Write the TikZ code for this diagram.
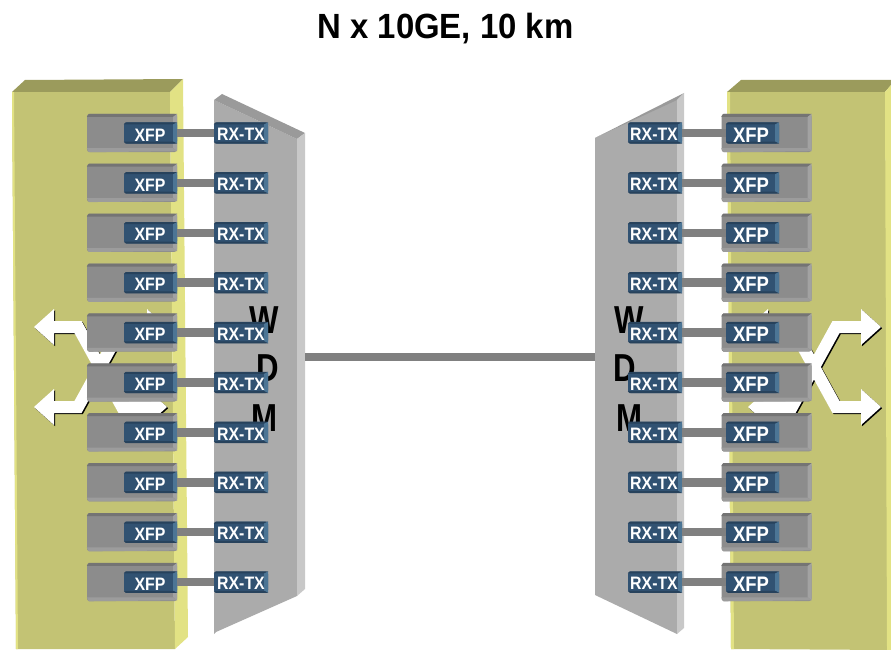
\documentclass[tikz,border=0pt]{standalone}
\usepackage{fontspec}
\setmainfont{Liberation Sans}
\newfontface\condf[FakeStretch=0.88]{Liberation Sans Bold}
\newfontface\condw[FakeStretch=0.8]{Liberation Sans Bold}
\newfontface\condb[FakeStretch=0.94]{Liberation Sans Bold}
\usetikzlibrary{calc}
\definecolor{chassis}{HTML}{C3C374}
\definecolor{chassistop}{HTML}{9B9B5C}
\definecolor{chassisside}{HTML}{E2E284}
\definecolor{wdmface}{HTML}{ABABAB}
\definecolor{wdmtop}{HTML}{9A9A9A}
\definecolor{wdmside}{HTML}{C8C8C8}
\definecolor{modface}{HTML}{8C8C8C}
\definecolor{modtop}{HTML}{747474}
\definecolor{modside}{HTML}{A2A2A2}
\definecolor{modbot}{HTML}{9C9C9C}
\definecolor{tagface}{HTML}{315272}
\definecolor{tagdark}{HTML}{27425C}
\definecolor{tagside}{HTML}{4C7595}
\tikzset{
  moduleshape/.style={fill=modface,draw=none,inner sep=0pt,minimum width=90pt,minimum height=38pt,rounded corners=2.5pt},
  tagshape/.style={fill=tagface,draw=none,inner sep=0pt,rounded corners=2.5pt,minimum height=21pt},
  xfpleft/.style={tagshape,minimum width=53pt},
  xfpright/.style={tagshape,minimum width=53pt},
  rxtag/.style={tagshape,minimum width=54pt},
  tagtext/.style={inner sep=0pt,text=white,font=\condf\fontsize{18}{18}\selectfont},
  tagtextbig/.style={inner sep=0pt,text=white,font=\condf\fontsize{21}{21}\selectfont},
  barline/.style={draw=black!50,line width=8.5pt},
  wdmletter/.style={inner sep=0pt,font=\condw\fontsize{39}{39}\selectfont},
  arrowbody/.style={line width=12pt,miter limit=10,line join=miter},
}
% module bevel: top band, right band, bottom band
\newcommand{\modbevel}[1]{%
  \fill[modtop] ($(#1.north west)+(2,0)$) -- ($(#1.north east)+(0,0)$) -- ($(#1.north east)+(-4,3)$) -- ($(#1.north west)+(0,3)$) -- cycle;
  \fill[modside] (#1.north east) -- ($(#1.south east)+(0,-1)$) -- ($(#1.south east)+(-4,-4)$) -- ($(#1.north east)+(-4,3)$) -- cycle;
  \fill[modbot] ($(#1.south west)+(0,-4)$) -- ($(#1.south east)+(-4,-4)$) -- ($(#1.south east)+(0,-1)$) -- ($(#1.south west)+(2,0)$) -- cycle;
}
\newcommand{\tagbevel}[1]{%
  \fill[tagdark] ($(#1.north west)+(2,0)$) -- (#1.north east) -- ($(#1.north east)+(-4,2)$) -- ($(#1.north west)+(0,2)$) -- cycle;
  \fill[tagside] (#1.north east) -- (#1.south east) -- ($(#1.south east)+(-4,-2)$) -- ($(#1.north east)+(-4,2)$) -- cycle;
  \fill[tagdark] ($(#1.south west)+(0,-2)$) -- ($(#1.south east)+(-4,-2)$) -- (#1.south east) -- ($(#1.south west)+(2,0)$) -- cycle;
}
% crossed double arrows: #1 = x of left tip
\newcommand{\crossarrows}[1]{%
  \begin{scope}[shift={(#1,0)}]
    \foreach \dx/\dy/\col in {1.2/1.2/black,0/0/white}{
      \begin{scope}[shift={(\dx,\dy)}]
        \draw[\col,arrowbody] (19,327) -- (44,327) -- (88,407) -- (114,407);
        \draw[\col,arrowbody] (19,407) -- (44,407) -- (88,327) -- (114,327);
        \fill[\col] (0,327) -- (20,309) -- (20,345) -- cycle;
        \fill[\col] (0,407) -- (20,389) -- (20,425) -- cycle;
        \fill[\col] (133,327) -- (113,309) -- (113,345) -- cycle;
        \fill[\col] (133,407) -- (113,389) -- (113,425) -- cycle;
      \end{scope}
    }
  \end{scope}
}
\begin{document}
\begin{tikzpicture}[x=1pt,y=-1pt]
\useasboundingbox (0,0) rectangle (891,650);
\node[inner sep=0pt,font=\condb\fontsize{35}{35}\selectfont] (title) at (445.5,29) {N x 10GE, 10 km};

% left chassis
\fill[chassis] (12,92) -- (170,92) -- (175,649) -- (16,649) -- cycle;
\fill[chassisside] (12,92) -- (14,92) -- (18,649) -- (16,649) -- cycle;
\fill[chassistop] (12,92) -- (25,80) -- (183,79) -- (170,92) -- cycle;
\fill[chassisside] (170,92) -- (183,79) -- (188,637) -- (175,649) -- cycle;

% right chassis
\fill[chassis] (727,92) -- (885,92) -- (891,650) -- (731,649) -- cycle;
\fill[chassisside] (727,92) -- (730,92) -- (734,649) -- (731,649) -- cycle;
\fill[chassistop] (727,92) -- (741,80) -- (891,80) -- (891,85) -- (885,92) -- cycle;
\fill[chassisside] (885,92) -- (891,85) -- (891,650) -- (887,650) -- cycle;

% left WDM
\fill[wdmface] (214,100) -- (297,139) -- (297,596) -- (216,632) -- (214,634) -- cycle;
\fill[wdmtop] (214,100) -- (222,94) -- (305,133) -- (297,139) -- cycle;
\fill[wdmside] (297,139) -- (305,133) -- (305,589) -- (297,596) -- cycle;
% right WDM
\fill[wdmface] (595,138) -- (677,99) -- (677,634) -- (595,595) -- cycle;
\fill[wdmtop] (595,138) -- (684,93) -- (677,100) -- cycle;
\fill[wdmside] (677,100) -- (684,93) -- (684,628) -- (677,634) -- cycle;

% trunk
\coordinate (trunkL) at (305,357);
\coordinate (trunkR) at (595,357);
\draw[barline] (trunkL) -- (trunkR);

% WDM letters
\node[wdmletter] (lw) at (264,320) {W};
\node[wdmletter] (ld) at (268,368) {D};
\node[wdmletter] (lm) at (264,418) {M};
\node[wdmletter] (rw) at (629,320) {W};
\node[wdmletter] (rd) at (625,368) {D};
\node[wdmletter] (rm) at (629,418) {M};

% crossing arrows
\crossarrows{34}
\crossarrows{748}

% modules and tags
\foreach \i in {0,...,9}{
  \pgfmathsetmacro{\yc}{133+49.9*\i}
  % left
  \node[moduleshape] (lmod\i) at (132,\yc) {};
  \modbevel{lmod\i}
  \node[xfpleft] (lxfp\i) at (150.5,\yc) {};
  \tagbevel{lxfp\i}
  \node[tagtext] (lxfpt\i) at (150,\yc+2) {XFP};
  \node[rxtag] (lrx\i) at (241,\yc) {};
  \tagbevel{lrx\i}
  \node[tagtext] (lrxt\i) at (241,\yc+1.5) {RX-TX};
  \draw[barline] (lxfp\i.east) -- (lrx\i.west);
  % right
  \node[moduleshape] (rmod\i) at (766.5,\yc) {};
  \modbevel{rmod\i}
  \node[xfpright] (rxfp\i) at (752.5,\yc) {};
  \tagbevel{rxfp\i}
  \node[tagtextbig] (rxfpt\i) at (751,\yc+2) {XFP};
  \node[rxtag] (rrx\i) at (655,\yc) {};
  \tagbevel{rrx\i}
  \node[tagtext] (rrxt\i) at (654,\yc+1.5) {RX-TX};
  \draw[barline] (rrx\i.east) -- (rxfp\i.west);
}
\end{tikzpicture}
\end{document}
